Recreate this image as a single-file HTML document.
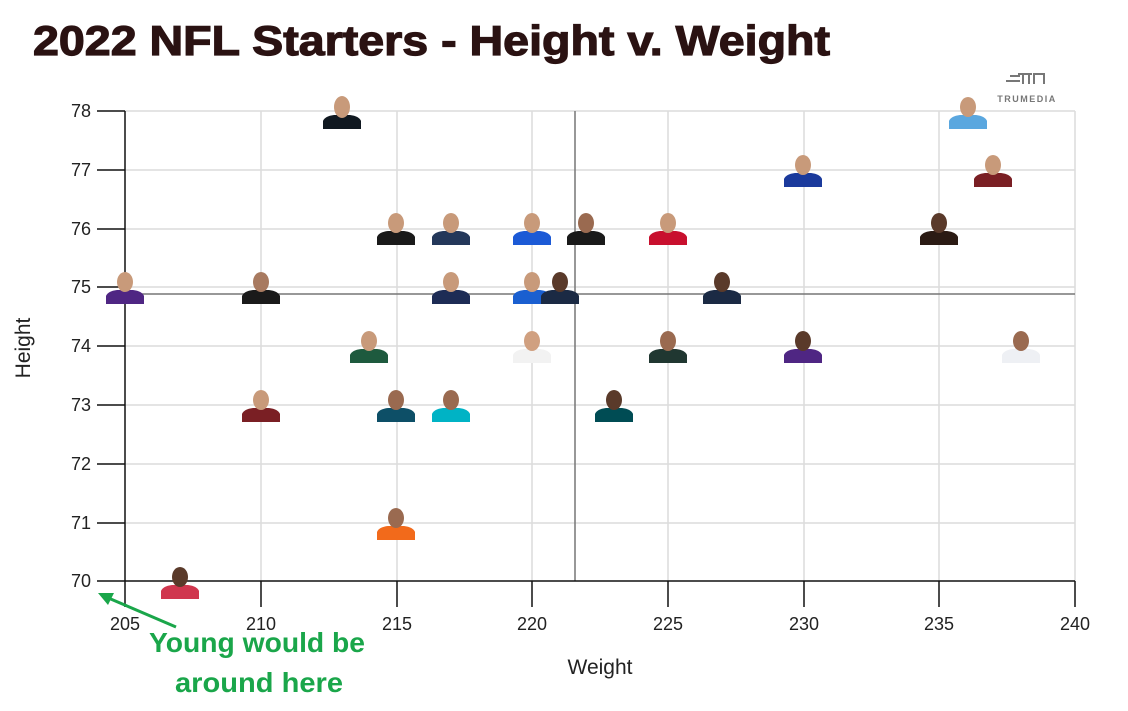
<!DOCTYPE html>
<html><head><meta charset="utf-8"><style>body{margin:0;background:#fff}svg{display:block}</style></head>
<body>
<svg width="1128" height="711" viewBox="0 0 1128 711" xmlns="http://www.w3.org/2000/svg" font-family="Liberation Sans, sans-serif">
<defs>
<path id="j" d="M-19,17 L-19,9 Q-17,4 -8,3 L8,3 Q17,4 19,9 L19,17 Z"/>
</defs>
<rect width="1128" height="711" fill="#fff"/>
<text x="33" y="55" font-size="42" font-weight="bold" fill="#2a1212" stroke="#2a1212" stroke-width="1.2" textLength="797" lengthAdjust="spacingAndGlyphs">2022 NFL Starters - Height v. Weight</text>
<g fill="#777">
<rect x="1010" y="75" width="10" height="2"/><rect x="1006" y="80" width="14" height="2"/>
<rect x="1018" y="73" width="14" height="2"/><rect x="1022" y="73" width="2" height="11"/>
<rect x="1028" y="73" width="2" height="11"/><rect x="1033" y="73" width="12" height="2"/><rect x="1033" y="73" width="2" height="11"/><rect x="1043" y="73" width="2" height="11"/>
<text x="1027" y="102" font-size="9" font-weight="bold" text-anchor="middle" letter-spacing="1.5">TRUMEDIA</text>
</g>
<g stroke="#dcdcdc" stroke-width="1.5">
<line x1="125" y1="111" x2="1075" y2="111"/><line x1="125" y1="170" x2="1075" y2="170"/><line x1="125" y1="229" x2="1075" y2="229"/><line x1="125" y1="287" x2="1075" y2="287"/><line x1="125" y1="346" x2="1075" y2="346"/><line x1="125" y1="405" x2="1075" y2="405"/><line x1="125" y1="464" x2="1075" y2="464"/><line x1="125" y1="523" x2="1075" y2="523"/>
<line x1="261" y1="111" x2="261" y2="581"/><line x1="397" y1="111" x2="397" y2="581"/><line x1="532" y1="111" x2="532" y2="581"/><line x1="668" y1="111" x2="668" y2="581"/><line x1="804" y1="111" x2="804" y2="581"/><line x1="939" y1="111" x2="939" y2="581"/><line x1="1075" y1="111" x2="1075" y2="581"/>
</g>
<g stroke="#777" stroke-width="1.5"><line x1="575" y1="111" x2="575" y2="581"/><line x1="125" y1="294" x2="1075" y2="294"/></g>
<g stroke="#111" stroke-width="1.5">
<line x1="125" y1="111" x2="125" y2="607"/><line x1="97" y1="581" x2="1075" y2="581"/>
<line x1="97" y1="111" x2="125" y2="111"/><line x1="97" y1="170" x2="125" y2="170"/><line x1="97" y1="229" x2="125" y2="229"/><line x1="97" y1="287" x2="125" y2="287"/><line x1="97" y1="346" x2="125" y2="346"/><line x1="97" y1="405" x2="125" y2="405"/><line x1="97" y1="464" x2="125" y2="464"/><line x1="97" y1="523" x2="125" y2="523"/>
<line x1="261" y1="581" x2="261" y2="607"/><line x1="397" y1="581" x2="397" y2="607"/><line x1="532" y1="581" x2="532" y2="607"/><line x1="668" y1="581" x2="668" y2="607"/><line x1="804" y1="581" x2="804" y2="607"/><line x1="939" y1="581" x2="939" y2="607"/><line x1="1075" y1="581" x2="1075" y2="607"/>
</g>
<g font-size="18" fill="#222" text-anchor="end">
<text x="91" y="117">78</text><text x="91" y="176">77</text><text x="91" y="235">76</text><text x="91" y="293">75</text><text x="91" y="352">74</text><text x="91" y="411">73</text><text x="91" y="470">72</text><text x="91" y="529">71</text><text x="91" y="587">70</text>
</g>
<g font-size="18" fill="#222" text-anchor="middle">
<text x="125" y="630">205</text><text x="261" y="630">210</text><text x="397" y="630">215</text><text x="532" y="630">220</text><text x="668" y="630">225</text><text x="804" y="630">230</text><text x="939" y="630">235</text><text x="1075" y="630">240</text>
</g>
<text x="600" y="674" font-size="21" fill="#222" text-anchor="middle">Weight</text>
<text transform="translate(30,348) rotate(-90)" font-size="21" fill="#222" text-anchor="middle">Height</text>
<g>
<g transform="translate(342,112)"><use href="#j" fill="#101820"/><ellipse cx="0" cy="-5" rx="8" ry="11" fill="#c89a7a"/></g>
<g transform="translate(968,112)"><use href="#j" fill="#5aa7df"/><ellipse cx="0" cy="-5" rx="8" ry="10" fill="#c89a7a"/></g>
<g transform="translate(803,170)"><use href="#j" fill="#1b3a9c"/><ellipse cx="0" cy="-5" rx="8" ry="10" fill="#c89a7a"/></g>
<g transform="translate(993,170)"><use href="#j" fill="#7a1f24"/><ellipse cx="0" cy="-5" rx="8" ry="10" fill="#c89a7a"/></g>
<g transform="translate(396,228)"><use href="#j" fill="#1a1a1a"/><ellipse cx="0" cy="-5" rx="8" ry="10" fill="#c89a7a"/></g>
<g transform="translate(451,228)"><use href="#j" fill="#24385a"/><ellipse cx="0" cy="-5" rx="8" ry="10" fill="#c89a7a"/></g>
<g transform="translate(532,228)"><use href="#j" fill="#1c5ad6"/><ellipse cx="0" cy="-5" rx="8" ry="10" fill="#c89a7a"/></g>
<g transform="translate(586,228)"><use href="#j" fill="#1a1a1a"/><ellipse cx="0" cy="-5" rx="8" ry="10" fill="#9a6a50"/></g>
<g transform="translate(668,228)"><use href="#j" fill="#c8102e"/><ellipse cx="0" cy="-5" rx="8" ry="10" fill="#c89a7a"/></g>
<g transform="translate(939,228)"><use href="#j" fill="#2b1b14"/><ellipse cx="0" cy="-5" rx="8" ry="10" fill="#5a3a2a"/></g>
<g transform="translate(125,287)"><use href="#j" fill="#4f2683"/><ellipse cx="0" cy="-5" rx="8" ry="10" fill="#c89a7a"/></g>
<g transform="translate(261,287)"><use href="#j" fill="#1a1a1a"/><ellipse cx="0" cy="-5" rx="8" ry="10" fill="#a87a60"/></g>
<g transform="translate(451,287)"><use href="#j" fill="#1d2c55"/><ellipse cx="0" cy="-5" rx="8" ry="10" fill="#c89a7a"/></g>
<g transform="translate(532,287)"><use href="#j" fill="#1a5fd0"/><ellipse cx="0" cy="-5" rx="8" ry="10" fill="#c89a7a"/></g>
<g transform="translate(560,287)"><use href="#j" fill="#1b2a44"/><ellipse cx="0" cy="-5" rx="8" ry="10" fill="#5a3a2a"/></g>
<g transform="translate(722,287)"><use href="#j" fill="#1b2a44"/><ellipse cx="0" cy="-5" rx="8" ry="10" fill="#5a3a2a"/></g>
<g transform="translate(369,346)"><use href="#j" fill="#1e5a3e"/><ellipse cx="0" cy="-5" rx="8" ry="10" fill="#c89a7a"/></g>
<g transform="translate(532,346)"><use href="#j" fill="#f2f2f2"/><ellipse cx="0" cy="-5" rx="8" ry="10" fill="#d0a080"/></g>
<g transform="translate(668,346)"><use href="#j" fill="#203731"/><ellipse cx="0" cy="-5" rx="8" ry="10" fill="#9a6a50"/></g>
<g transform="translate(803,346)"><use href="#j" fill="#4f2683"/><ellipse cx="0" cy="-5" rx="8" ry="10" fill="#5a3a2a"/></g>
<g transform="translate(1021,346)"><use href="#j" fill="#eef0f4"/><ellipse cx="0" cy="-5" rx="8" ry="10" fill="#9a6a50"/></g>
<g transform="translate(261,405)"><use href="#j" fill="#7a1f24"/><ellipse cx="0" cy="-5" rx="8" ry="10" fill="#c89a7a"/></g>
<g transform="translate(396,405)"><use href="#j" fill="#0d4f67"/><ellipse cx="0" cy="-5" rx="8" ry="10" fill="#9a6a50"/></g>
<g transform="translate(451,405)"><use href="#j" fill="#00b3c5"/><ellipse cx="0" cy="-5" rx="8" ry="10" fill="#9a6a50"/></g>
<g transform="translate(614,405)"><use href="#j" fill="#004c54"/><ellipse cx="0" cy="-5" rx="8" ry="10" fill="#5a3a2a"/></g>
<g transform="translate(396,523)"><use href="#j" fill="#f26a1b"/><ellipse cx="0" cy="-5" rx="8" ry="10" fill="#9a6a50"/></g>
<g transform="translate(180,582)"><use href="#j" fill="#d0364e"/><ellipse cx="0" cy="-5" rx="8" ry="10" fill="#5a3a2a"/></g>
</g>
<line x1="176" y1="627" x2="106" y2="597" stroke="#1aa64a" stroke-width="3"/>
<polygon points="98,593 114,593 108,605" fill="#1aa64a"/>
<g font-size="28" font-weight="bold" fill="#1aa64a" text-anchor="middle">
<text x="257" y="652" textLength="216" lengthAdjust="spacingAndGlyphs">Young would be</text>
<text x="259" y="692" textLength="168" lengthAdjust="spacingAndGlyphs">around here</text>
</g>
</svg>
</body></html>
